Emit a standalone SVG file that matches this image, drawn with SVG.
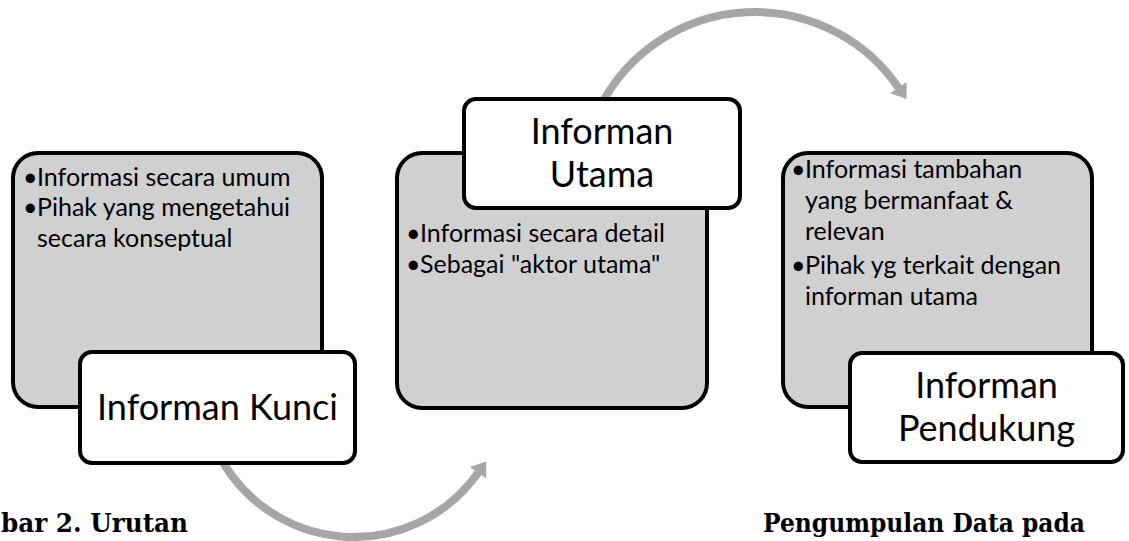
<svg xmlns="http://www.w3.org/2000/svg" width="1129" height="541" viewBox="0 0 1129 541">
<style>
.panel{fill:#d0d0d0;stroke:#000;stroke-width:4}
.title{fill:#fff;stroke:#000;stroke-width:4}
.t{font-family:Lato,"Open Sans","Liberation Sans",sans-serif;fill:#000}
.b{font-size:25px}
.h{font-size:36px;text-anchor:middle}
.arc{fill:none;stroke:#a6a6a6;stroke-width:8}
.head{fill:#a6a6a6}
.cap{font-family:"DejaVu Serif","Liberation Serif",serif;font-weight:bold;font-size:26px;fill:#000}
</style>
<rect width="1129" height="541" fill="#fff"/>
<g id="connectors">
<path class="arc" d="M216.2,449.2 A152,152 0 0 0 478.8,471.7"/>
<polygon class="head" points="486.3,478.6 469.9,467.0 486.2,461.4"/>
<path class="arc" d="M601.4,104.3 A174,174 0 0 1 899.2,88.7"/>
<polygon class="head" points="906.7,81.9 890.3,93.3 906.4,99.1"/>
</g>
<g id="node-kunci">
<rect class="panel" x="13" y="153" width="309" height="254" rx="25"/>
<text class="t b" x="23" y="186">•</text><text class="t b" x="37" y="186">Informasi secara umum</text>
<text class="t b" x="23" y="216">•</text><text class="t b" x="37" y="216">Pihak yang mengetahui</text>
<text class="t b" x="37" y="247">secara konseptual</text>
<rect class="title" x="80" y="352" width="275" height="111" rx="12"/>
<text class="t h" x="217.5" y="420">Informan Kunci</text>
</g>
<g id="node-utama">
<rect class="panel" x="397" y="153" width="310" height="255" rx="25"/>
<text class="t b" x="406" y="242">•</text><text class="t b" x="420" y="242">Informasi secara detail</text>
<text class="t b" x="406" y="273">•</text><text class="t b" x="420" y="273">Sebagai "aktor utama"</text>
<rect class="title" x="464" y="99" width="276" height="109" rx="12"/>
<text class="t h" x="602" y="144">Informan</text>
<text class="t h" x="602" y="187">Utama</text>
</g>
<g id="node-pendukung">
<rect class="panel" x="783" y="153" width="309" height="254" rx="25"/>
<text class="t b" x="791" y="178">•</text><text class="t b" x="805" y="178">Informasi tambahan</text>
<text class="t b" x="805" y="209">yang bermanfaat &amp;</text>
<text class="t b" x="805" y="240">relevan</text>
<text class="t b" x="791" y="274">•</text><text class="t b" x="805" y="274">Pihak yg terkait dengan</text>
<text class="t b" x="805" y="305">informan utama</text>
<rect class="title" x="850" y="353" width="273" height="109" rx="12"/>
<text class="t h" x="986.5" y="398">Informan</text>
<text class="t h" x="986.5" y="441">Pendukung</text>
</g>
<g id="captions">
<text class="cap" x="1" y="532" textLength="187" lengthAdjust="spacingAndGlyphs">bar 2. Urutan</text>
<text class="cap" x="763" y="532" textLength="322" lengthAdjust="spacingAndGlyphs">Pengumpulan Data pada</text>
</g>
</svg>
